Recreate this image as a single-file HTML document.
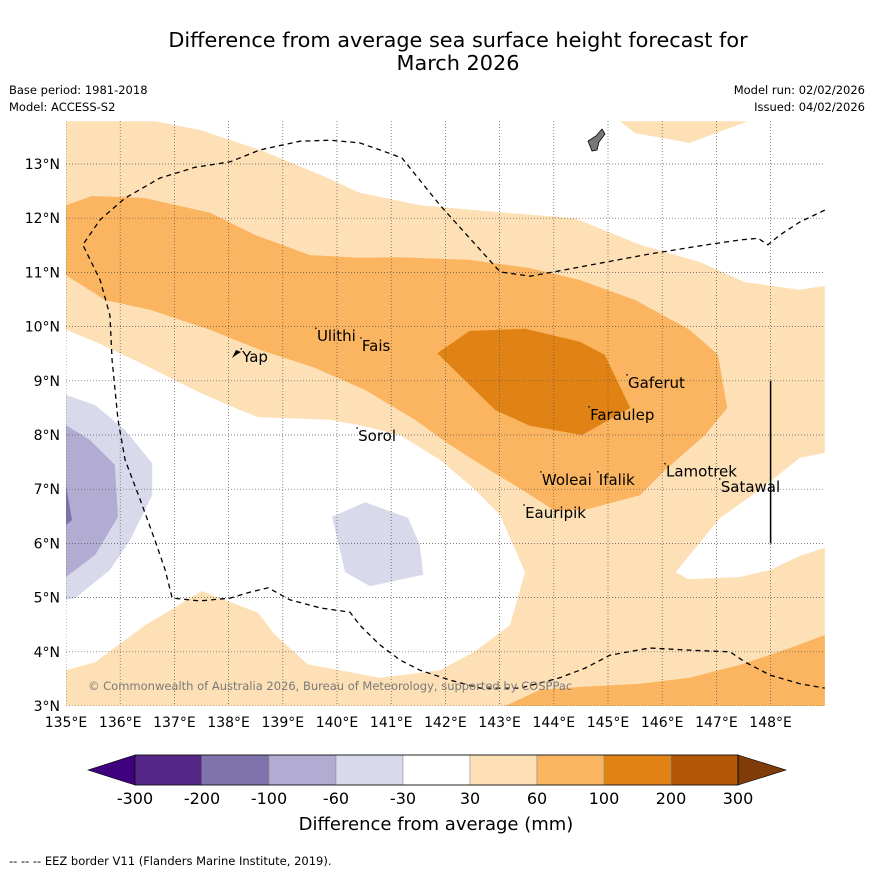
<!DOCTYPE html>
<html><head><meta charset="utf-8">
<style>
html,body{margin:0;padding:0;background:#fff;}
body{width:873px;height:873px;overflow:hidden;font-family:"Liberation Sans","DejaVu Sans",sans-serif;}
svg text{font-family:"DejaVu Sans","Liberation Sans",sans-serif;}
</style></head>
<body>
<svg id="chart" width="873" height="873" viewBox="0 0 873 873" xmlns="http://www.w3.org/2000/svg">
<text x="458" y="47" font-size="20.8" text-anchor="middle" fill="#000">Difference from average sea surface height forecast for</text>
<text x="458" y="70" font-size="20.8" text-anchor="middle" fill="#000">March 2026</text>
<text x="9" y="94" font-size="11.5">Base period: 1981-2018</text>
<text x="9" y="111" font-size="11.5">Model: ACCESS-S2</text>
<text x="865" y="94" font-size="11.5" text-anchor="end">Model run: 02/02/2026</text>
<text x="865" y="111" font-size="11.5" text-anchor="end">Issued: 04/02/2026</text>
<defs><clipPath id="plotclip"><rect x="66" y="121" width="759" height="585"/></clipPath></defs>
<g id="map" clip-path="url(#plotclip)"></g>
<g id="overlay"></g>
<text x="88" y="690" font-size="11.5" fill="#7a7a7a">© Commonwealth of Australia 2026, Bureau of Meteorology, supported by COSPPac</text>
<g id="colorbar"></g>
<text x="436" y="830" font-size="18" text-anchor="middle">Difference from average (mm)</text>
<text x="9" y="865" font-size="11.5">--  --  -- EEZ border V11 (Flanders Marine Institute, 2019).</text>
</svg>
<script>
const lonTicks=[135,136,137,138,139,140,141,142,143,144,145,146,147,148];
const latTicks=[3,4,5,6,7,8,9,10,11,12,13];
const lightOrange=[[135,13.79],[136.64,13.79],[137.47,13.63],[138.58,13.26],[139.69,12.80],[140.42,12.47],[141.53,12.24],[143.01,12.11],[144.39,12.00],[145.59,11.51],[146.70,11.19],[147.53,10.82],[148.54,10.68],[149,10.75],[149,7.67],[148.54,7.58],[147.80,6.99],[147.07,6.47],[146.51,5.79],[146.25,5.47],[146.48,5.34],[147.44,5.38],[147.99,5.51],[148.54,5.77],[149,5.92],[149,3],[135,3],[135,3.66],[135.54,3.81],[136.46,4.49],[137.51,5.12],[138.54,4.72],[138.86,4.31],[139.46,3.77],[140.79,3.52],[141.90,3.66],[142.55,4.01],[143.19,4.49],[143.47,5.47],[143.01,6.52],[142.55,6.99],[141.90,7.54],[141.16,8.00],[140.42,8.18],[139.87,8.28],[138.54,8.33],[138.21,8.46],[137.56,8.74],[137.01,9.01],[136.46,9.29],[135.54,9.72],[135,9.94]];
const lightOrangeTop=[[145.22,13.79],[145.50,13.57],[146.51,13.39],[147.58,13.79]];
const midOrange=[[135,12.24],[135.48,12.41],[136.46,12.37],[137.66,12.10],[138.49,11.69],[139.50,11.32],[140.42,11.27],[141.16,11.28],[142.45,11.23],[143.56,11.08],[144.48,10.86],[145.50,10.49],[146.51,9.94],[147.03,9.48],[147.20,8.50],[146.79,8.00],[146.05,7.35],[145.59,6.89],[144.58,6.62],[144.02,6.60],[143.51,6.93],[142.82,7.35],[142.08,7.82],[141.44,8.28],[141.07,8.50],[140.52,8.83],[139.59,9.24],[138.58,9.57],[137.66,9.94],[136.55,10.31],[135.72,10.49],[135,10.95]];
const midOrangeSouth=[[143.10,3],[143.75,3.30],[144.48,3.35],[145.59,3.41],[146.51,3.52],[147.44,3.76],[148.36,4.07],[149,4.31],[149,3]];
const darkOrange=[[141.85,9.51],[142.45,9.92],[143.47,9.96],[144.48,9.72],[144.94,9.48],[145.41,8.50],[144.52,8.00],[143.56,8.17],[142.92,8.46],[142.45,8.92]];
const lightPurpleWest=[[135,8.74],[135.54,8.55],[136.09,8.09],[136.59,7.48],[136.59,6.89],[136.18,6.06],[135.81,5.51],[135.17,4.99],[135,4.96]];
const lightPurpleCentre=[[139.91,6.49],[140.52,6.76],[141.31,6.47],[141.53,5.97],[141.59,5.42],[140.61,5.21],[140.15,5.47]];
const midPurple=[[135,8.18],[135.44,7.91],[135.90,7.45],[135.96,6.49],[135.54,5.79],[135,5.38]];
const darkPurple=[[135,7.08],[135.11,6.43],[135,6.34]];
const eezLine=[[149,12.15],[148.54,11.93],[148.17,11.69],[147.95,11.51],[147.77,11.63],[147.44,11.60],[146.70,11.49],[145.77,11.34],[144.85,11.17],[144.11,11.03],[143.56,10.93],[143.01,11.01],[142.45,11.63],[141.90,12.24],[141.20,13.11],[140.79,13.26],[140.42,13.39],[139.87,13.44],[139.32,13.42],[138.58,13.26],[138.03,13.04],[137.38,12.94],[136.73,12.74],[136.09,12.37],[135.63,11.97],[135.31,11.51],[135.63,10.86],[135.81,10.21],[135.85,9.38],[135.96,8.28],[136.09,7.54],[136.37,6.80],[136.64,6.06],[136.83,5.51],[136.96,4.99],[137.47,4.94],[138.03,4.99],[138.39,5.10],[138.73,5.18],[139.13,4.96],[139.69,4.81],[140.24,4.73],[140.42,4.49],[140.79,4.13],[141.16,3.85],[141.53,3.66],[142.08,3.48],[142.64,3.33],[143.38,3.33],[144.11,3.52],[144.58,3.70],[145.04,3.94],[145.77,4.07],[146.51,4.03],[147.25,4.00],[147.53,3.81],[147.99,3.57],[148.54,3.41],[149,3.33]];
const islandNames=["Yap","Ulithi","Fais","Gaferut","Faraulep","Sorol","Woleai","Ifalik","Lamotrek","Satawal","Eauripik"];
const islandLon=[138.25,139.63,140.46,145.37,144.67,140.39,143.78,144.83,146.07,147.08,143.47];
const islandLat=[9.35,9.73,9.55,8.87,8.28,7.89,7.08,7.08,7.23,6.95,6.47];
const cbLevels=[-300,-200,-100,-60,-30,30,60,100,200,300];
const cbColors=["#542788","#8073ac","#b2abd2","#d8daeb","#ffffff","#fde0b6","#fbb45f","#e08214","#b35806"];

const NS="http://www.w3.org/2000/svg";
const X0=66,PX=54.2,Y0=706;
function sx(lon){return X0+(lon-135)*PX;}
function sy(lat){return Y0-(lat-3)*PX;}
function mk(tag,attrs,parent){const e=document.createElementNS(NS,tag);for(const k in attrs)e.setAttribute(k,attrs[k]);parent.appendChild(e);return e;}
function pts(arr){return arr.map(p=>sx(p[0]).toFixed(1)+","+sy(p[1]).toFixed(1)).join(" ");}
const map=document.getElementById('map');
const ov=document.getElementById('overlay');
function poly(arr,fill,name){const e=mk('polygon',{points:pts(arr),fill:fill},map);

}
poly(lightOrange,"#fde0b6","contour-30-60");
poly(lightOrangeTop,"#fde0b6","contour-30-60-north");
poly(midOrange,"#fbb45f","contour-60-100");
poly(midOrangeSouth,"#fbb45f","contour-60-100-south");
poly(darkOrange,"#e08214","contour-100-200");
poly(lightPurpleWest,"#d8daeb","contour-neg30-neg60-west");
poly(lightPurpleCentre,"#d8daeb","contour-neg30-neg60-centre");
poly(midPurple,"#b2abd2","contour-neg60-neg100");
poly(darkPurple,"#8073ac","contour-neg100-neg200");
lonTicks.forEach(l=>{const e=mk('line',{x1:sx(l),x2:sx(l),y1:121,y2:706,stroke:"#555","stroke-width":0.7,"stroke-dasharray":"1,2"},map);


const t=mk('text',{x:sx(l),y:727,"font-size":14,"text-anchor":"middle"},ov);t.textContent=l+"°E";

});
latTicks.forEach(l=>{const e=mk('line',{x1:66,x2:825,y1:sy(l),y2:sy(l),stroke:"#555","stroke-width":0.7,"stroke-dasharray":"1,2"},map);


const t=mk('text',{x:60,y:sy(l)+5,"font-size":14,"text-anchor":"end"},ov);t.textContent=l+"°N";

});
const eez=mk('polyline',{points:pts(eezLine),fill:"none",stroke:"#000","stroke-width":1.3,"stroke-dasharray":"5,4"},map);


const vl=mk('line',{x1:sx(148),x2:sx(148),y1:sy(9),y2:sy(6),stroke:"#000","stroke-width":1.5},map);


const guam=mk('polygon',{points:"588,141 592,151 597,150 599,142 605,134 602,129 596,136",fill:"#777",stroke:"#000","stroke-width":0.8},map);


const yap=mk('polygon',{points:"232,358 236,350 241,352 236,355",fill:"#000"},map);


islandNames.forEach((n,i)=>{const t=mk('text',{x:sx(islandLon[i]),y:sy(islandLat[i]),"font-size":15},ov);t.textContent=n;


const d=mk('circle',{cx:sx(islandLon[i])-1,cy:sy(islandLat[i])-13,r:0.8,fill:"#000"},ov);

});
const cb=document.getElementById('colorbar');
const cbx=135,cbw=67,cby=755,cbh=30;
const la=mk('polygon',{points:`${cbx},${cby} 88,${cby+15} ${cbx},${cby+cbh}`,fill:"#3f007d",stroke:"#000","stroke-width":0.6},cb);


cbColors.forEach((c,i)=>{const r=mk('rect',{x:cbx+i*cbw,y:cby,width:cbw,height:cbh,fill:c,stroke:"#888","stroke-width":0.5},cb);

});
const xe=cbx+cbColors.length*cbw;
const ra=mk('polygon',{points:`${xe},${cby} 786,${cby+15} ${xe},${cby+cbh}`,fill:"#7f3b08",stroke:"#000","stroke-width":0.6},cb);


mk('rect',{x:cbx,y:cby,width:cbColors.length*cbw,height:cbh,fill:"none",stroke:"#000","stroke-width":0.8},cb);
cbLevels.forEach((v,i)=>{const t=mk('text',{x:cbx+i*cbw,y:804,"font-size":16,"text-anchor":"middle"},cb);t.textContent=v;

});
</script>
</body></html>
